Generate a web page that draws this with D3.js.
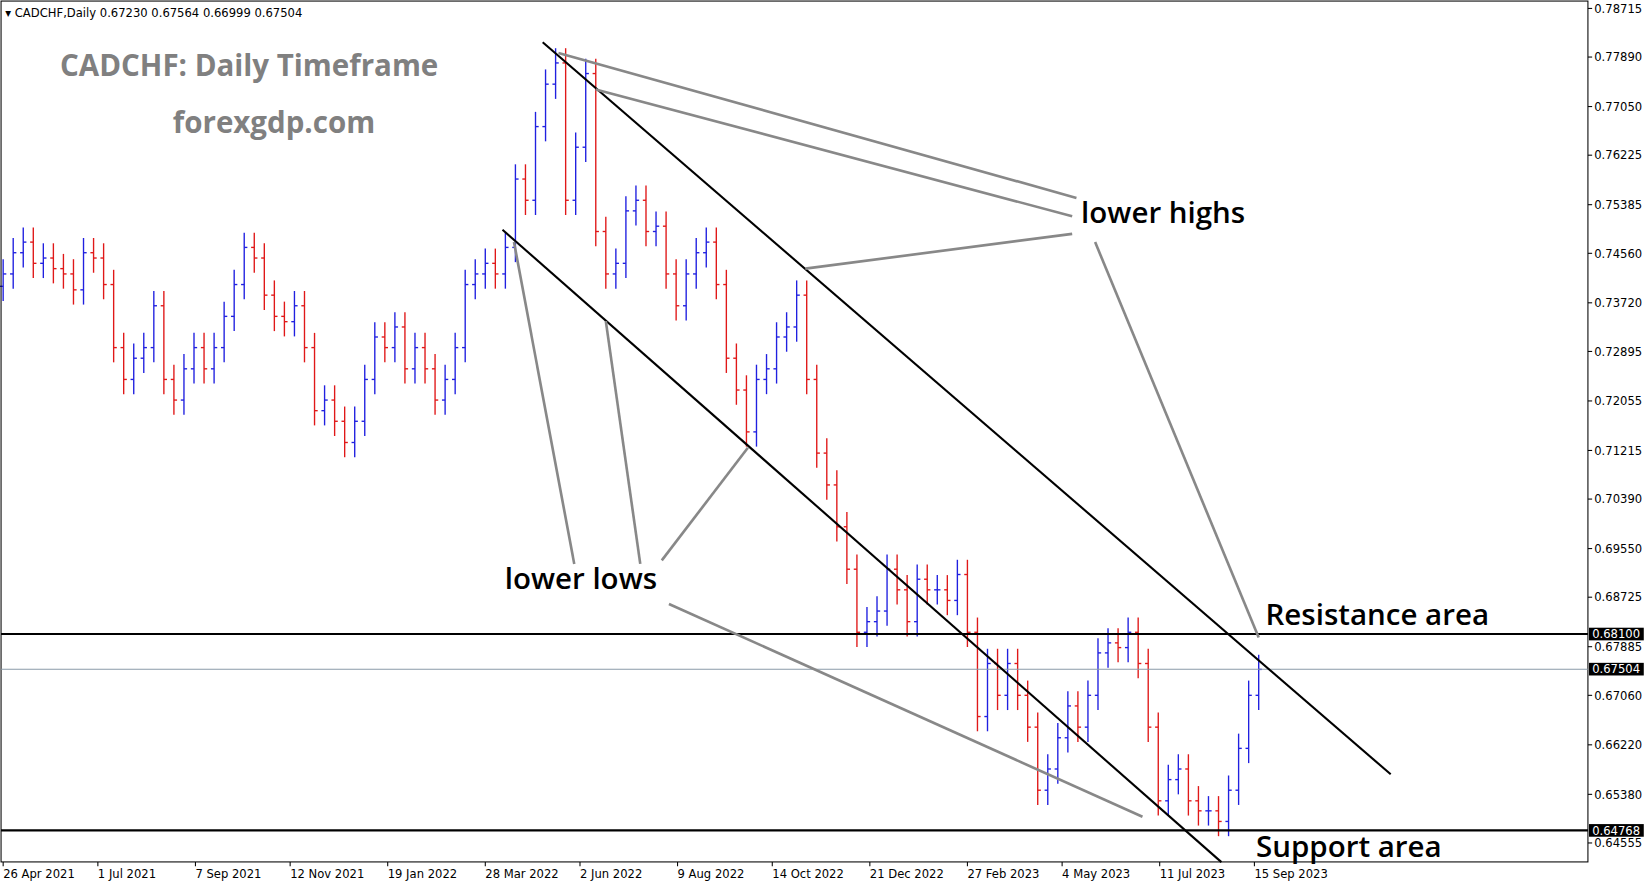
<!DOCTYPE html><html><head><meta charset="utf-8">
<script src="https://cdn.jsdelivr.net/npm/d3@7"></script>
<style>body{margin:0;background:#fff}svg{font-family:Tahoma,"DejaVu Sans",sans-serif}</style></head><body>
<svg id="c" width="1649" height="884"></svg>
<script>
const startDate = "2021-04-26";
const weeklyCloses = [0.7421,0.7457,0.7475,0.7439,0.7448,0.7430,0.7421,0.7394,0.7457,0.7448,0.7403,0.7296,0.7242,0.7278,0.7296,0.7367,0.7242,0.7207,0.7260,0.7296,0.7260,0.7296,0.7349,0.7403,0.7466,0.7448,0.7385,0.7349,0.7340,0.7367,0.7296,0.7189,0.7207,0.7171,0.7135,0.7171,0.7242,0.7314,0.7296,0.7331,0.7260,0.7296,0.7260,0.7207,0.7242,0.7296,0.7403,0.7421,0.7439,0.7421,0.7466,0.7582,0.7546,0.7671,0.7743,0.7779,0.7546,0.7636,0.7761,0.7493,0.7421,0.7439,0.7528,0.7546,0.7493,0.7502,0.7421,0.7367,0.7421,0.7457,0.7475,0.7403,0.7278,0.7224,0.7153,0.7242,0.7260,0.7314,0.7331,0.7385,0.7242,0.7117,0.7063,0.6992,0.6920,0.6813,0.6831,0.6849,0.6920,0.6885,0.6831,0.6903,0.6885,0.6885,0.6867,0.6911,0.6813,0.6670,0.6760,0.6706,0.6760,0.6706,0.6652,0.6545,0.6581,0.6634,0.6688,0.6652,0.6706,0.6778,0.6795,0.6787,0.6813,0.6760,0.6652,0.6527,0.6563,0.6581,0.6527,0.6510,0.6510,0.6492,0.6545,0.6616,0.6706,0.6750];
const firstOpen = 0.7400;
const priceTicks = [0.78715,0.77890,0.77050,0.76225,0.75385,0.74560,0.73720,0.72895,0.72055,0.71215,0.70390,0.69550,0.68725,0.67885,0.67060,0.66220,0.65380,0.64555];
const dateTicks = ["2021-04-26","2021-07-01","2021-09-07","2021-11-12","2022-01-19","2022-03-28","2022-06-02","2022-08-09","2022-10-14","2022-12-21","2023-02-27","2023-05-04","2023-07-11","2023-09-15"];
const levelResistance = 0.68100, levelSupport = 0.64768, levelCurrent = 0.67504;
const channelLines = [[[376,0.7814],[967,0.6572]],[[348,0.7496],[849,0.6423]]];
const pointerLines = [[[387,0.7796],[748,0.7550]],[[413,0.7734],[745,0.7519]],[[559,0.7430],[745,0.7489]],[[761,0.7475],[875,0.6804]],
 [[356,0.7475],[398,0.6929]],[[420,0.7341],[444,0.6929]],[[519,0.7126],[459,0.6935]],[[464,0.6861],[794,0.6500]]];

const svg=d3.select("#c").append("g").attr("transform","scale(1.0537)");
const t0=new Date(startDate+"T00:00:00");
const day=d=>d3.timeDay.offset(t0,d);
const x=d3.scaleTime().domain([t0,day(879)]).range([3,1200]);
const y=d3.scaleLinear().domain([0.64555,0.78715]).range([800,8]);
const fmtD=d3.timeFormat("%-d %b %Y");

weeklyCloses.forEach((c,i)=>{
  const o=i?weeklyCloses[i-1]:firstOpen;
  const hi=Math.max(o,c)+0.0025, lo=Math.min(o,c)-0.0025;
  const col=c>=o?"#2020e0":"#e01818";
  const xc=x(day(7*i));
  const g=svg.append("g").attr("stroke",col).attr("stroke-width",1.3);
  g.append("line").attr("x1",xc).attr("x2",xc).attr("y1",y(hi)).attr("y2",y(lo));
  g.append("line").attr("x1",xc-3).attr("x2",xc).attr("y1",y(o)).attr("y2",y(o));
  g.append("line").attr("x1",xc).attr("x2",xc+3).attr("y1",y(c)).attr("y2",y(c));
});
svg.append("rect").attr("x",1).attr("y",1).attr("width",1506).attr("height",817).attr("fill","none").attr("stroke","#000").attr("stroke-width",1);
priceTicks.forEach(p=>{
  svg.append("line").attr("x1",1507).attr("x2",1511).attr("y1",y(p)).attr("y2",y(p)).attr("stroke","#000");
  svg.append("text").attr("x",1513).attr("y",y(p)+4).attr("font-size",11).text(p.toFixed(5));
});
dateTicks.forEach(d=>{
  const dt=new Date(d+"T00:00:00"), xp=x(dt);
  svg.append("line").attr("x1",xp).attr("x2",xp).attr("y1",818).attr("y2",822).attr("stroke","#000");
  svg.append("text").attr("x",xp).attr("y",833).attr("font-size",11).text(fmtD(dt));
});
svg.append("line").attr("x1",1).attr("x2",1507).attr("y1",y(levelCurrent)).attr("y2",y(levelCurrent)).attr("stroke","#8a9aa8").attr("stroke-width",1);
[levelResistance,levelSupport].forEach(l=>svg.append("line").attr("x1",1).attr("x2",1507).attr("y1",y(l)).attr("y2",y(l)).attr("stroke","#000").attr("stroke-width",2));
[levelResistance,levelCurrent,levelSupport].forEach(l=>{
  svg.append("rect").attr("x",1508).attr("y",y(l)-6).attr("width",52).attr("height",12).attr("fill","#000");
  svg.append("text").attr("x",1511).attr("y",y(l)+4).attr("font-size",11).attr("fill","#fff").text(l.toFixed(5));
});
const P=pt=>[x(day(pt[0])),y(pt[1])];
channelLines.forEach(l=>{const a=P(l[0]),b=P(l[1]);svg.append("line").attr("x1",a[0]).attr("y1",a[1]).attr("x2",b[0]).attr("y2",b[1]).attr("stroke","#000").attr("stroke-width",2);});
pointerLines.forEach(l=>{const a=P(l[0]),b=P(l[1]);svg.append("line").attr("x1",a[0]).attr("y1",a[1]).attr("x2",b[0]).attr("y2",b[1]).attr("stroke","#888").attr("stroke-width",2.5);});
svg.append("text").attr("x",5).attr("y",16).attr("font-size",11).text("▾ CADCHF,Daily  0.67230 0.67564 0.66999 0.67504");
const T=(s,tx,ty,sz,col,w)=>svg.append("text").attr("x",tx).attr("y",ty).attr("font-size",sz).attr("fill",col).attr("font-weight",w).attr("font-family","'Open Sans',sans-serif").text(s);
T("CADCHF: Daily Timeframe",57,72,28,"#808080","bold");
T("forexgdp.com",164,126,28,"#808080","bold");
T("lower highs",1026,212,28,"#000","600");
T("lower lows",479,559,28,"#000","600");
T("Resistance area",1201,593,28,"#000","600");
T("Support area",1192,813,28,"#000","600");
</script></body></html>
